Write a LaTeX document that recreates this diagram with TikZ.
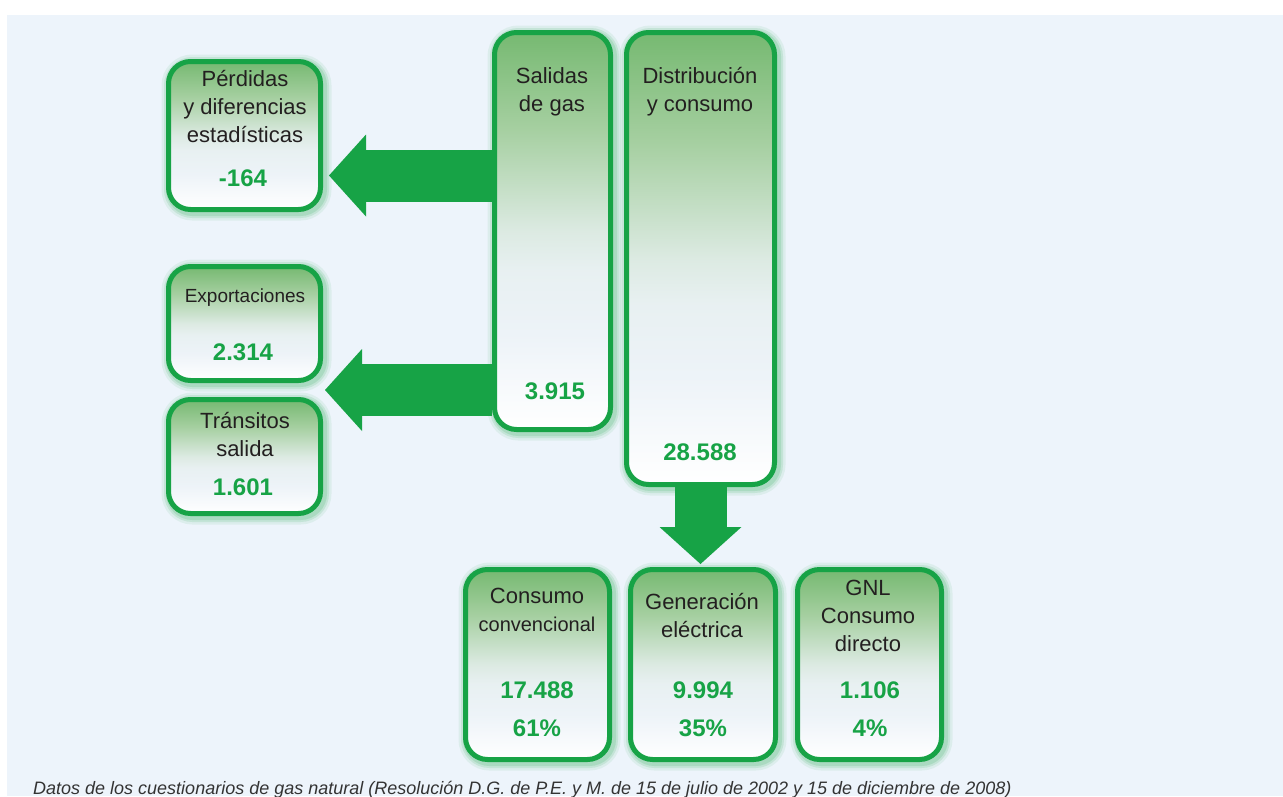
\documentclass[tikz,border=0pt]{standalone}
\usepackage{fontspec}
\setmainfont{Liberation Sans}
\usetikzlibrary{arrows.meta,calc}

\definecolor{flowgreen}{HTML}{17A346}
\definecolor{topgreen}{HTML}{76B971}
\definecolor{leafgreen}{HTML}{A5CFA0}
\definecolor{midtone}{HTML}{DCEAE2}
\definecolor{paleblue}{HTML}{EDF3F8}
\definecolor{inkgray}{HTML}{231F20}
\definecolor{bgblue}{HTML}{EDF4FB}
\definecolor{capgray}{HTML}{333333}

\pgfdeclareverticalshading{boxfade}{100bp}{color(0bp)=(white); color(25bp)=(white);
  color(37bp)=(paleblue); color(45bp)=(paleblue!70!midtone); color(50bp)=(midtone);
  color(63bp)=(leafgreen); color(75bp)=(topgreen); color(100bp)=(topgreen)}

\tikzset{
  box/.style={draw=flowgreen, line width=5pt, rounded corners=22pt, inner sep=0pt,
    shading=boxfade,
    preaction={draw=flowgreen, line width=18pt, opacity=0.08, transform canvas={shift={(2pt,-2pt)}}},
    preaction={draw=flowgreen, line width=13pt, opacity=0.12, transform canvas={shift={(2pt,-2pt)}}},
    preaction={draw=flowgreen, line width=9pt, opacity=0.15, transform canvas={shift={(2pt,-2pt)}}}},
  lbl/.style={text=inkgray, align=center, inner sep=0pt, font=\fontsize{22}{28}\selectfont},
  val/.style={text=flowgreen, inner sep=0pt, font=\fontsize{24}{28}\selectfont\bfseries},
  fatarrow/.style={draw=flowgreen, line width=52pt, -{Triangle[length=37pt, width=82pt, line width=0pt]}}
}

\begin{document}
\begin{tikzpicture}[x=1pt,y=-1pt]
\fill[white] (0,0) rectangle (1283,796);
\fill[bgblue] (7,15) rectangle (1283,796);
\useasboundingbox (0,0) rectangle (1283,796);

% boxes
\node[box, minimum width=152pt, minimum height=148pt] (per) at (244.5,135.5) {};
\node[box, minimum width=152pt, minimum height=114pt] (exp) at (244.5,323.5) {};
\node[box, minimum width=152pt, minimum height=114pt] (tra) at (244.5,456.5) {};
\node[box, minimum width=116pt, minimum height=397pt] (sal) at (552.5,231) {};
\node[box, minimum width=148pt, minimum height=452pt] (dis) at (700.5,258.5) {};
\node[box, minimum width=144pt, minimum height=190pt] (con) at (537.5,664.5) {};
\node[box, minimum width=145pt, minimum height=190pt] (gen) at (703,664.5) {};
\node[box, minimum width=144pt, minimum height=190pt] (gnl) at (869.5,664.5) {};

% texts
\node[lbl] (perT) at (245,107) {Pérdidas\\y diferencias\\estadísticas};
\node[val] (perV) at (243,178) {-164};
\node[lbl, font=\fontsize{19}{24}\selectfont] (expT) at (245,298) {Exportaciones};
\node[val] (expV) at (243,352) {2.314};
\node[lbl] (traT) at (245,434) {Tránsitos\\salida};
\node[val] (traV) at (243,487) {1.601};
\node[lbl] (salT) at (552,92) {Salidas\\de gas};
\node[val] (salV) at (555,391) {3.915};
\node[lbl] (disT) at (700,92) {Distribución\\y consumo};
\node[val] (disV) at (700,452) {28.588};
\node[lbl] (conT) at (537,610) {Consumo\\{\fontsize{20}{28}\selectfont convencional}};
\node[val] (conV) at (537,690) {17.488};
\node[val] (conP) at (537,728) {61\%};
\node[lbl] (genT) at (702,615) {Generación\\eléctrica};
\node[val] (genV) at (703,690) {9.994};
\node[val] (genP) at (703,728) {35\%};
\node[lbl] (gnlT) at (868,616) {GNL\\Consumo\\directo};
\node[val] (gnlV) at (870,690) {1.106};
\node[val] (gnlP) at (870,728) {4\%};

% flows
\coordinate (pertip) at ([xshift=6pt,yshift=-40pt]per.east);
\coordinate (exptip) at ($(exp.south east)!0.5!(tra.north east)+(2pt,0)$);
\draw[fatarrow] (sal.west |- pertip) -- (pertip);
\draw[fatarrow] (sal.west |- exptip) -- (exptip);
\draw[fatarrow] (dis.south) -- ([yshift=3pt]dis.south |- gen.north);

\node[anchor=base west, inner sep=0pt, text=capgray, font=\fontsize{18}{20}\selectfont\itshape] (src) at (33,794)
  {Datos de los cuestionarios de gas natural (Resolución D.G. de P.E. y M. de 15 de julio de 2002 y 15 de diciembre de 2008)};
\end{tikzpicture}
\end{document}
